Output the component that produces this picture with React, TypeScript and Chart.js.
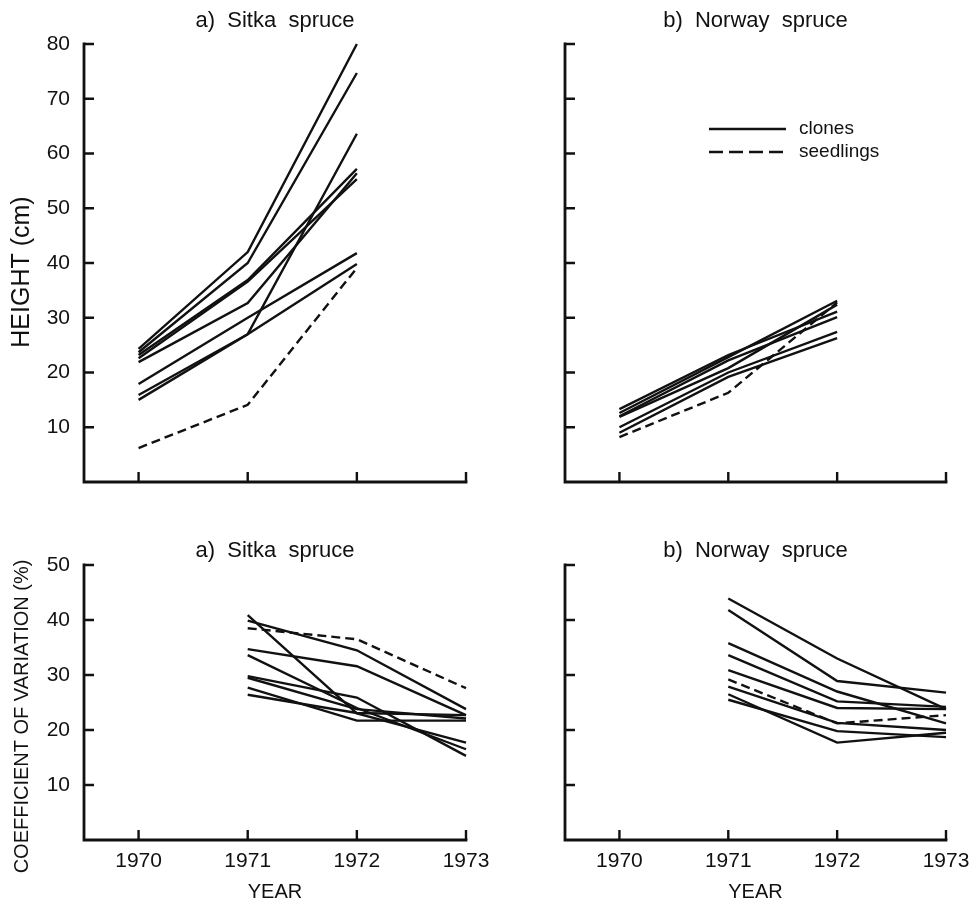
import React, { useEffect, useRef } from 'react';
import { Chart, registerables } from 'chart.js';

Chart.register(...registerables);
const FONT = '"Liberation Sans", Arial, Helvetica, sans-serif';
Chart.defaults.font.family = FONT;
Chart.defaults.color = '#111';

const INK = '#111';

// ---------- data ----------
const heightYears = [1970, 1971, 1972];
const cvYears = [1971, 1972, 1973];
const yearTicks = [1970, 1971, 1972, 1973];
const heightTicks = [10, 20, 30, 40, 50, 60, 70, 80];
const cvTicks = [10, 20, 30, 40, 50];

// a) Sitka spruce, height (cm)
const sitkaHeightClones = [
  [24.3, 42.0, 80.0],
  [23.7, 40.0, 74.7],
  [23.2, 36.9, 57.2],
  [22.6, 36.6, 55.3],
  [21.9, 32.7, 56.4],
  [17.9, 30.0, 41.8],
  [15.9, 27.0, 63.6],
  [15.0, 27.0, 39.8],
];
const sitkaHeightSeedlings = [6.2, 14.1, 39.1];

// b) Norway spruce, height (cm)
const norwayHeightClones = [
  [13.3, 23.2, 31.1],
  [12.6, 22.8, 33.1],
  [12.0, 22.2, 30.1],
  [11.9, 20.8, 32.4],
  [10.0, 20.0, 27.4],
  [9.0, 19.2, 26.3],
];
const norwayHeightSeedlings = [8.2, 16.3, 32.8];

// a) Sitka spruce, coefficient of variation (%)
const sitkaCvClones = [
  [40.9, 23.0, 17.7],
  [39.9, 34.5, 23.8],
  [34.7, 31.6, 22.7],
  [33.6, 24.0, 16.5],
  [29.8, 25.9, 15.3],
  [29.5, 23.8, 22.1],
  [27.7, 21.7, 21.7],
  [26.4, 23.1, 22.7],
];
const sitkaCvSeedlings = [38.5, 36.5, 27.6];

// b) Norway spruce, coefficient of variation (%)
const norwayCvClones = [
  [43.9, 33.0, 23.8],
  [41.8, 28.9, 26.8],
  [35.8, 27.0, 21.2],
  [33.6, 25.2, 24.2],
  [30.9, 24.0, 23.8],
  [27.9, 21.3, 20.0],
  [26.5, 17.7, 19.5],
  [25.5, 19.8, 18.7],
];
const norwayCvSeedlings = [29.2, 21.2, 22.7];

const legendLabels = ['clones', 'seedlings'];

// ---------- plugins ----------
const axesPlugin = {
  id: 'frameAxes',
  afterDraw(chart: any) {
    const { ctx, chartArea, scales } = chart;
    const { left, right, top, bottom } = chartArea;
    const x = scales.x;
    const y = scales.y;
    ctx.save();
    ctx.strokeStyle = INK;
    ctx.lineWidth = 2.8;
    ctx.lineCap = 'square';
    ctx.beginPath();
    ctx.moveTo(left, top);
    ctx.lineTo(left, bottom);
    ctx.lineTo(right, bottom);
    ctx.stroke();
    ctx.lineWidth = 2.4;
    ctx.lineCap = 'butt';
    ctx.beginPath();
    y.ticks.forEach((t: any) => {
      const py = y.getPixelForValue(t.value);
      ctx.moveTo(left, py);
      ctx.lineTo(left + 10, py);
    });
    x.ticks.forEach((t: any) => {
      const px = x.getPixelForValue(t.value);
      ctx.moveTo(px, bottom);
      ctx.lineTo(px, bottom - 10);
    });
    ctx.stroke();
    ctx.restore();
  },
};

const sideTitlePlugin = {
  id: 'sideTitle',
  afterDraw(chart: any) {
    const o = chart.options.plugins.sideTitle;
    if (!o || !o.text) return;
    const { ctx, chartArea } = chart;
    const cy = (chartArea.top + chartArea.bottom) / 2 + o.dy;
    ctx.save();
    ctx.fillStyle = INK;
    ctx.font = `${o.size}px ${FONT}`;
    ctx.textAlign = 'center';
    ctx.textBaseline = 'middle';
    ctx.translate(o.x, cy);
    ctx.rotate(-Math.PI / 2);
    ctx.fillText(o.text, 0, 0);
    ctx.restore();
  },
};

const insideLegendPlugin = {
  id: 'insideLegend',
  afterDraw(chart: any) {
    const opts = chart.options.plugins.insideLegend;
    if (!opts || !opts.show) return;
    const { ctx, chartArea } = chart;
    const { left, top } = chartArea;
    ctx.save();
    ctx.strokeStyle = INK;
    ctx.fillStyle = INK;
    ctx.lineWidth = 2.4;
    ctx.font = `19px ${FONT}`;
    ctx.textBaseline = 'middle';
    ctx.textAlign = 'left';
    const rows = [
      { dash: [] as number[], dy: 85 },
      { dash: [14, 6], dy: 108 },
    ];
    rows.forEach((r, i) => {
      ctx.setLineDash(r.dash);
      ctx.beginPath();
      ctx.moveTo(left + 144, top + r.dy);
      ctx.lineTo(left + 221, top + r.dy);
      ctx.stroke();
      ctx.setLineDash([]);
      ctx.fillText(legendLabels[i], left + 234, top + r.dy);
    });
    ctx.restore();
  },
};

// ---------- panels ----------
type PanelSpec = {
  left: number;
  top: number;
  width: number;
  height: number;
  title: string;
  titlePadTop: number;
  titlePadBottom: number;
  years: number[];
  clones: number[][];
  seedlings: number[];
  yMax: number;
  yTicks: number[];
  yWidth: number;
  xHeight: number;
  padRight: number;
  yTitle: string;
  yTitleSize: number;
  yTitleDy: number;
  showYLabels: boolean;
  showYears: boolean;
  showLegend: boolean;
};

function lineDataset(label: string, years: number[], vals: number[], dashed: boolean) {
  return {
    label,
    data: years.map((yr, j) => ({ x: yr, y: vals[j] })),
    borderColor: INK,
    backgroundColor: INK,
    borderWidth: 2.4,
    borderDash: dashed ? [9, 5] : [],
    pointRadius: 0,
    pointHoverRadius: 0,
    tension: 0,
    fill: false,
    clip: false,
  };
}

function Panel({ spec }: { spec: PanelSpec }) {
  const ref = useRef<HTMLCanvasElement | null>(null);
  useEffect(() => {
    if (!ref.current) return;
    const p = spec;
    const datasets = [
      ...p.clones.map((v, i) => lineDataset(`clone ${i + 1}`, p.years, v, false)),
      lineDataset('seedlings', p.years, p.seedlings, true),
    ];
    const chart = new Chart(ref.current, {
      type: 'line',
      data: { datasets } as any,
      options: {
        animation: false,
        responsive: false,
        devicePixelRatio: 1,
        events: [],
        layout: { padding: { left: 0, right: p.padRight, top: 0, bottom: 0 } },
        plugins: {
          legend: { display: false },
          tooltip: { enabled: false },
          title: {
            display: true,
            text: p.title,
            fullSize: false,
            color: INK,
            font: { size: 22, weight: 'normal', lineHeight: 1.2 },
            padding: { top: p.titlePadTop, bottom: p.titlePadBottom },
          },
          insideLegend: { show: p.showLegend },
          sideTitle: { text: p.yTitle, size: p.yTitleSize, dy: p.yTitleDy, x: 22 },
        } as any,
        scales: {
          x: {
            type: 'linear',
            min: 1969.5,
            max: 1973,
            grid: { display: false, drawTicks: false },
            border: { display: false },
            afterBuildTicks: (s: any) => {
              s.ticks = yearTicks.map((v) => ({ value: v }));
            },
            ticks: {
              display: p.showYears,
              padding: 9,
              color: INK,
              font: { size: 21, lineHeight: 1.2 },
              maxRotation: 0,
              autoSkip: false,
              callback: (v: any) => String(v),
            },
            title: {
              display: p.showYears,
              text: 'YEAR',
              color: INK,
              font: { size: 20, lineHeight: 1.2 },
              padding: { top: 0, bottom: 0 },
            },
            afterFit: (s: any) => {
              s.height = p.xHeight;
            },
          },
          y: {
            type: 'linear',
            min: 0,
            max: p.yMax,
            grid: { display: false, drawTicks: false },
            border: { display: false },
            afterBuildTicks: (s: any) => {
              s.ticks = p.yTicks.map((v) => ({ value: v }));
            },
            ticks: {
              display: p.showYLabels,
              padding: 14,
              color: INK,
              font: { size: 21, lineHeight: 1.2 },
              callback: (v: any) => String(v),
            },
            title: { display: false },
            afterFit: (s: any) => {
              s.width = p.yWidth;
            },
          },
        },
      } as any,
      plugins: [axesPlugin, sideTitlePlugin, insideLegendPlugin],
    });
    return () => chart.destroy();
  }, [spec]);
  return (
    <canvas
      ref={ref}
      width={spec.width}
      height={spec.height}
      style={{
        position: 'absolute',
        left: spec.left,
        top: spec.top,
        width: spec.width,
        height: spec.height,
      }}
    />
  );
}

const panels: PanelSpec[] = [
  {
    left: 0, top: 0, width: 510, height: 520,
    title: 'a)  Sitka  spruce', titlePadTop: 8, titlePadBottom: 9.6,
    years: heightYears, clones: sitkaHeightClones, seedlings: sitkaHeightSeedlings,
    yMax: 80, yTicks: heightTicks, yWidth: 84, xHeight: 38, padRight: 44,
    yTitle: 'HEIGHT (cm)', yTitleSize: 25, yTitleDy: 9,
    showYLabels: true, showYears: false, showLegend: false,
  },
  {
    left: 476, top: 0, width: 510, height: 520,
    title: 'b)  Norway  spruce', titlePadTop: 8, titlePadBottom: 9.6,
    years: heightYears, clones: norwayHeightClones, seedlings: norwayHeightSeedlings,
    yMax: 80, yTicks: heightTicks, yWidth: 89, xHeight: 38, padRight: 40,
    yTitle: '', yTitleSize: 20, yTitleDy: 0,
    showYLabels: false, showYears: false, showLegend: true,
  },
  {
    left: 0, top: 500, width: 510, height: 404,
    title: 'a)  Sitka  spruce', titlePadTop: 37.8, titlePadBottom: 0.8,
    years: cvYears, clones: sitkaCvClones, seedlings: sitkaCvSeedlings,
    yMax: 50, yTicks: cvTicks, yWidth: 84, xHeight: 64, padRight: 44,
    yTitle: 'COEFFICIENT OF VARIATION (%)', yTitleSize: 20, yTitleDy: 14,
    showYLabels: true, showYears: true, showLegend: false,
  },
  {
    left: 476, top: 500, width: 510, height: 404,
    title: 'b)  Norway  spruce', titlePadTop: 37.8, titlePadBottom: 0.8,
    years: cvYears, clones: norwayCvClones, seedlings: norwayCvSeedlings,
    yMax: 50, yTicks: cvTicks, yWidth: 89, xHeight: 64, padRight: 40,
    yTitle: '', yTitleSize: 20, yTitleDy: 0,
    showYLabels: false, showYears: true, showLegend: false,
  },
];

export default function App() {
  return (
    <div
      style={{
        position: 'absolute',
        left: 0,
        top: 0,
        width: 973,
        height: 904,
        overflow: 'hidden',
        background: '#ffffff',
      }}
    >
      {panels.map((p, i) => (
        <Panel key={i} spec={p} />
      ))}
    </div>
  );
}
